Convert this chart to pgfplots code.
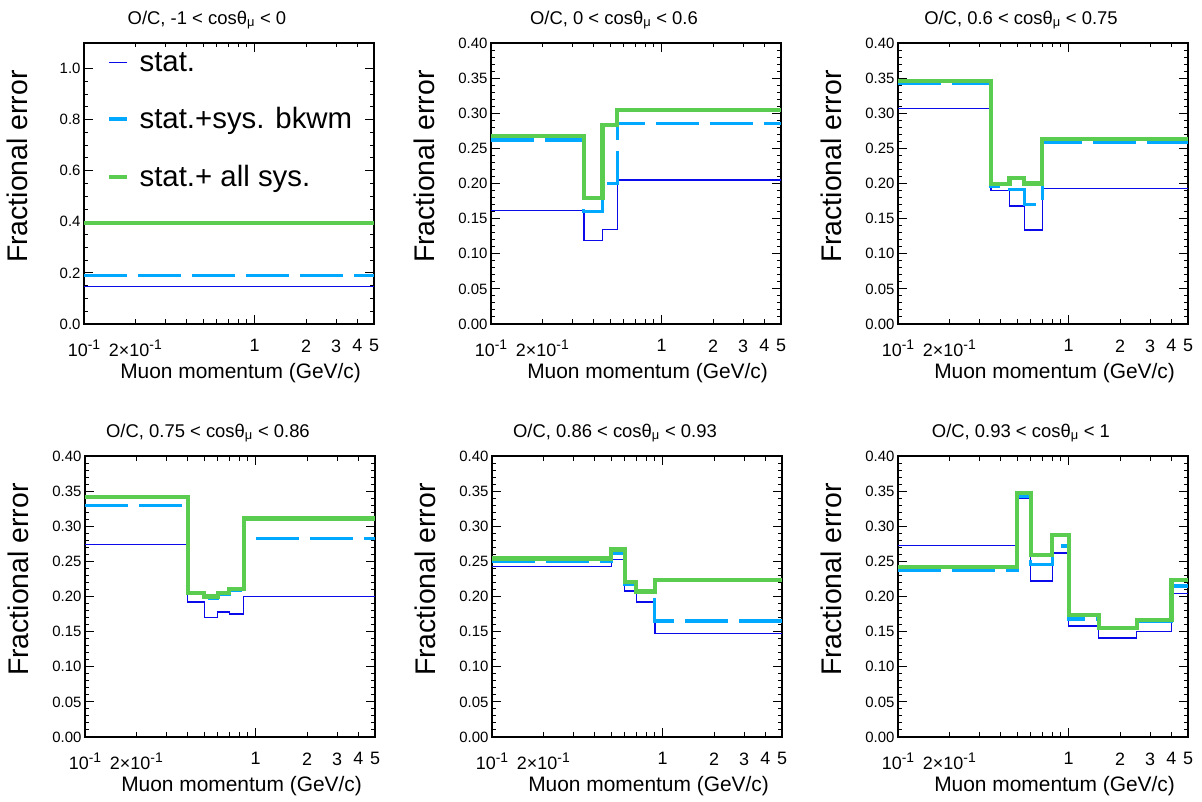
\documentclass[border=0pt]{standalone}
\usepackage{fontspec}
\setmainfont{Liberation Sans}
\usepackage{pgfplots}
\pgfplotsset{compat=1.18}

\definecolor{statc}{RGB}{10,10,235}
\definecolor{bkc}{RGB}{0,168,255}
\definecolor{allc}{RGB}{90,205,80}

\newcommand\tenm{10\raisebox{0.42em}{\fontsize{14}{15}\selectfont -1}}

\tikzset{
  ocstat/.style={color=statc, line width=1.3bp},
  ocbkwm/.style={color=bkc, line width=3.2bp, dash pattern=on 43bp off 11bp},
  ocall/.style={color=allc, line width=4.2bp},
}

% common settings for all six panels
\pgfplotsset{
  scale only axis, width=290bp, height=281bp,
  xmin=0.1, xmax=5,
  axis line style={line width=1.6bp},
  tick style={line width=1bp, black},
  tick align=inside,
  major tick length=9bp, minor tick length=4.5bp,
  ymin=0, ymax=0.4,
  yticklabel style={font=\fontsize{15}{18}\selectfont},
  xticklabel style={yshift=-12bp, font=\fontsize{18}{21}\selectfont},
  x label style={at={(axis description cs:0.54,-0.193)}, anchor=base, font=\fontsize{21}{24}\selectfont},
  y label style={at={(axis description cs:-0.196,0.56)}, anchor=base, font=\fontsize{28.5}{32}\selectfont},
  title style={at={(axis description cs:0.424,1)}, anchor=base, yshift=13bp, font=\fontsize{18.5}{22}\selectfont},
}

\begin{document}
\begin{tikzpicture}
\path[use as bounding box] (0,0) rectangle (1202bp,802bp);

% -1 < cos < 0
\begin{axis}[xmode=log, anchor=south west, at={(84bp,478bp)},
  xtick={0.1,1}, xticklabels={\tenm,1},
  minor xtick={0.2,0.3,0.4,0.5,0.6,0.7,0.8,0.9,2,3,4,5},
  extra x ticks={0.2,2,3,4,5},
  extra x tick labels={2×\tenm,2,3,4,5},
  extra x tick style={major tick length=0pt},
  xlabel={Muon momentum (GeV/c)}, ylabel={Fractional error},
  title={O/C, -1 < cosθ\textsubscript{μ} < 0},
  ymax=1.1, ytick={0,0.2,0.4,0.6,0.8,1.0}, minor y tick num=3,
  yticklabel style={/pgf/number format/.cd, fixed, fixed zerofill, precision=1, assume math mode=true},
  legend cell align=left,
  legend style={at={(axis description cs:0.08,0.975)}, anchor=north west,
    draw=none, fill=none, font=\fontsize{29.5}{34}\selectfont, row sep=31bp, column sep=9bp, inner sep=0pt},
]
\addplot[ocstat, const plot, no marks] coordinates {(0.1,0.146)(5,0.146)};
\addlegendentry{stat.}
\addplot[ocbkwm, const plot, no marks] coordinates {(0.1,0.190)(5,0.190)};
\addlegendentry{stat.+sys. bkwm}
\addplot[ocall, const plot, no marks] coordinates {(0.1,0.394)(5,0.394)};
\addlegendentry{stat.+ all sys.}
\end{axis}

% 0 < cos < 0.6
\begin{axis}[xmode=log, anchor=south west, at={(491bp,478bp)},
  xtick={0.1,1}, xticklabels={\tenm,1},
  minor xtick={0.2,0.3,0.4,0.5,0.6,0.7,0.8,0.9,2,3,4,5},
  extra x ticks={0.2,2,3,4,5},
  extra x tick labels={2×\tenm,2,3,4,5},
  extra x tick style={major tick length=0pt},
  ytick distance=0.05, minor y tick num=4,
  yticklabel style={/pgf/number format/.cd, fixed, fixed zerofill, precision=2, assume math mode=true},
  xlabel={Muon momentum (GeV/c)}, ylabel={Fractional error},
  title={O/C, 0 < cosθ\textsubscript{μ} < 0.6}]
\addplot[ocstat, const plot, no marks] coordinates {(0.1,0.162)(0.35,0.119)(0.45,0.135)(0.55,0.205)(5,0.205)};
\addplot[ocbkwm, const plot, no marks] coordinates {(0.1,0.262)(0.35,0.160)(0.45,0.200)(0.55,0.285)(5,0.285)};
\addplot[ocall, const plot, no marks] coordinates {(0.1,0.268)(0.35,0.179)(0.45,0.283)(0.55,0.305)(5,0.305)};
\end{axis}

% 0.6 < cos < 0.75
\begin{axis}[xmode=log, anchor=south west, at={(898bp,478bp)},
  xtick={0.1,1}, xticklabels={\tenm,1},
  minor xtick={0.2,0.3,0.4,0.5,0.6,0.7,0.8,0.9,2,3,4,5},
  extra x ticks={0.2,2,3,4,5},
  extra x tick labels={2×\tenm,2,3,4,5},
  extra x tick style={major tick length=0pt},
  ytick distance=0.05, minor y tick num=4,
  yticklabel style={/pgf/number format/.cd, fixed, fixed zerofill, precision=2, assume math mode=true},
  xlabel={Muon momentum (GeV/c)}, ylabel={Fractional error},
  title={O/C, 0.6 < cosθ\textsubscript{μ} < 0.75}]
\addplot[ocstat, const plot, no marks] coordinates {(0.1,0.307)(0.35,0.190)(0.45,0.168)(0.55,0.134)(0.7,0.193)(5,0.193)};
\addplot[ocbkwm, const plot, no marks] coordinates {(0.1,0.342)(0.35,0.196)(0.45,0.192)(0.55,0.170)(0.7,0.258)(5,0.258)};
\addplot[ocall, const plot, no marks] coordinates {(0.1,0.346)(0.35,0.199)(0.45,0.208)(0.55,0.200)(0.7,0.263)(5,0.263)};
\end{axis}

% 0.75 < cos < 0.86
\begin{axis}[xmode=log, anchor=south west, at={(85bp,65bp)},
  xtick={0.1,1}, xticklabels={\tenm,1},
  minor xtick={0.2,0.3,0.4,0.5,0.6,0.7,0.8,0.9,2,3,4,5},
  extra x ticks={0.2,2,3,4,5},
  extra x tick labels={2×\tenm,2,3,4,5},
  extra x tick style={major tick length=0pt},
  ytick distance=0.05, minor y tick num=4,
  yticklabel style={/pgf/number format/.cd, fixed, fixed zerofill, precision=2, assume math mode=true},
  xlabel={Muon momentum (GeV/c)}, ylabel={Fractional error},
  title={O/C, 0.75 < cosθ\textsubscript{μ} < 0.86}]
\addplot[ocstat, const plot, no marks] coordinates {(0.1,0.274)(0.4,0.192)(0.5,0.170)(0.6,0.178)(0.7,0.175)(0.85,0.200)(5,0.200)};
\addplot[ocbkwm, const plot, no marks] coordinates {(0.1,0.330)(0.4,0.204)(0.5,0.197)(0.6,0.203)(0.7,0.209)(0.85,0.282)(5,0.282)};
\addplot[ocall, const plot, no marks] coordinates {(0.1,0.342)(0.4,0.205)(0.5,0.200)(0.6,0.205)(0.7,0.211)(0.85,0.311)(5,0.311)};
\end{axis}

% 0.86 < cos < 0.93
\begin{axis}[xmode=log, anchor=south west, at={(492bp,65bp)},
  xtick={0.1,1}, xticklabels={\tenm,1},
  minor xtick={0.2,0.3,0.4,0.5,0.6,0.7,0.8,0.9,2,3,4,5},
  extra x ticks={0.2,2,3,4,5},
  extra x tick labels={2×\tenm,2,3,4,5},
  extra x tick style={major tick length=0pt},
  ytick distance=0.05, minor y tick num=4,
  yticklabel style={/pgf/number format/.cd, fixed, fixed zerofill, precision=2, assume math mode=true},
  xlabel={Muon momentum (GeV/c)}, ylabel={Fractional error},
  title={O/C, 0.86 < cosθ\textsubscript{μ} < 0.93}]
\addplot[ocstat, const plot, no marks] coordinates {(0.1,0.243)(0.5,0.253)(0.6,0.208)(0.7,0.192)(0.9,0.147)(5,0.147)};
\addplot[ocbkwm, const plot, no marks] coordinates {(0.1,0.250)(0.5,0.262)(0.6,0.217)(0.7,0.207)(0.9,0.165)(5,0.165)};
\addplot[ocall, const plot, no marks] coordinates {(0.1,0.254)(0.5,0.267)(0.6,0.221)(0.7,0.207)(0.9,0.223)(5,0.223)};
\end{axis}

% 0.93 < cos < 1
\begin{axis}[xmode=log, anchor=south west, at={(898bp,65bp)},
  xtick={0.1,1}, xticklabels={\tenm,1},
  minor xtick={0.2,0.3,0.4,0.5,0.6,0.7,0.8,0.9,2,3,4,5},
  extra x ticks={0.2,2,3,4,5},
  extra x tick labels={2×\tenm,2,3,4,5},
  extra x tick style={major tick length=0pt},
  ytick distance=0.05, minor y tick num=4,
  yticklabel style={/pgf/number format/.cd, fixed, fixed zerofill, precision=2, assume math mode=true},
  xlabel={Muon momentum (GeV/c)}, ylabel={Fractional error},
  title={O/C, 0.93 < cosθ\textsubscript{μ} < 1}]
\addplot[ocstat, const plot, no marks] coordinates {(0.1,0.273)(0.5,0.340)(0.6,0.222)(0.8,0.262)(1,0.158)(1.5,0.141)(2.5,0.150)(4,0.204)(5,0.204)};
\addplot[ocbkwm, const plot, no marks] coordinates {(0.1,0.237)(0.5,0.342)(0.6,0.245)(0.8,0.272)(1,0.168)(1.5,0.155)(2.5,0.164)(4,0.215)(5,0.215)};
\addplot[ocall, const plot, no marks] coordinates {(0.1,0.242)(0.5,0.347)(0.6,0.259)(0.8,0.287)(1,0.174)(1.5,0.155)(2.5,0.166)(4,0.223)(5,0.223)};
\end{axis}
\end{tikzpicture}
\end{document}
